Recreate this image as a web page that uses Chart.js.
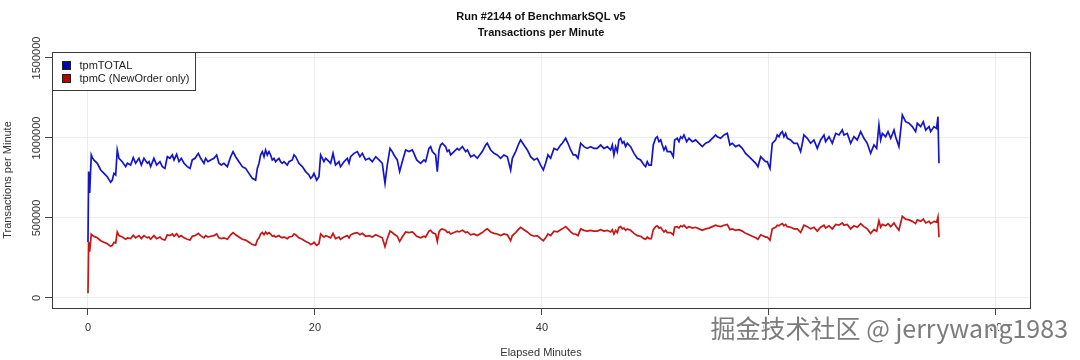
<!DOCTYPE html>
<html>
<head>
<meta charset="utf-8">
<script src="https://cdn.jsdelivr.net/npm/chart.js@4.4.1/dist/chart.umd.min.js"></script>
<style>
  html, body { margin: 0; padding: 0; background: #fff; }
  #wrap { width: 1080px; height: 360px; }
</style>
</head>
<body>
<div id="wrap"><canvas id="tpmChart" width="1080" height="360"></canvas></div>
<script>
// elapsed minutes of each sample
const minutes = [
  0.00, 0.06, 0.15, 0.29, 0.38, 0.53, 0.82, 1.12, 1.41, 1.70, 2.00, 2.14, 2.29, 2.44, 2.58, 2.73,
  3.02, 3.32, 3.47, 3.76, 3.99, 4.20, 4.49, 4.70, 4.93, 5.23, 5.37, 5.52, 5.81, 6.05, 6.34, 6.55,
  6.78, 6.99, 7.22, 7.43, 7.58, 7.81, 8.02, 8.22, 8.46, 8.75, 8.99, 9.19, 9.43, 9.72, 9.93, 10.22,
  10.37, 10.57, 10.81, 11.10, 11.34, 11.54, 11.75, 11.98, 12.28, 12.57, 12.78, 13.01, 13.30, 13.60, 13.89, 14.18,
  14.48, 14.77, 14.92, 15.07, 15.21, 15.36, 15.51, 15.65, 15.80, 15.95, 16.09, 16.24, 16.39, 16.53, 16.68, 16.83,
  16.97, 17.12, 17.27, 17.56, 17.71, 18.00, 18.15, 18.30, 18.59, 18.88, 19.18, 19.47, 19.62, 19.77, 19.91, 20.15,
  20.35, 20.50, 20.65, 20.79, 20.94, 21.09, 21.38, 21.59, 21.81, 22.11, 22.25, 22.56, 22.85, 23.00, 23.14, 23.44,
  23.73, 23.96, 24.17, 24.46, 24.76, 25.05, 25.35, 25.64, 25.93, 26.17, 26.37, 26.61, 26.81, 26.96, 27.25, 27.46,
  27.69, 27.99, 28.28, 28.58, 28.72, 28.96, 29.31, 29.60, 29.75, 29.90, 30.04, 30.19, 30.34, 30.49, 30.63, 30.78,
  30.93, 31.07, 31.22, 31.37, 31.51, 31.66, 31.81, 31.95, 32.25, 32.54, 32.69, 32.99, 33.28, 33.43, 33.72, 34.01,
  34.30, 34.74, 35.04, 35.18, 35.48, 35.77, 36.06, 36.36, 36.65, 36.95, 37.24, 37.39, 37.68, 37.97, 38.12, 38.41,
  38.71, 39.00, 39.30, 39.59, 39.88, 40.12, 40.32, 40.53, 40.76, 41.06, 41.35, 41.64, 41.79, 42.09, 42.29, 42.53,
  42.76, 42.97, 43.17, 43.41, 43.70, 43.99, 44.29, 44.58, 44.87, 45.17, 45.46, 45.76, 46.05, 46.20, 46.34, 46.49,
  46.64, 46.78, 46.93, 47.08, 47.22, 47.37, 47.52, 47.81, 48.11, 48.40, 48.69, 48.99, 49.13, 49.28, 49.43, 49.63,
  49.81, 50.01, 50.16, 50.31, 50.46, 50.60, 50.75, 50.90, 51.04, 51.34, 51.57, 51.69, 51.92, 52.07, 52.22, 52.36,
  52.51, 52.75, 52.95, 53.25, 53.54, 53.84, 54.13, 54.42, 54.71, 55.01, 55.30, 55.45, 55.74, 56.04, 56.33, 56.56,
  56.77, 57.06, 57.36, 57.65, 57.94, 58.24, 58.53, 58.83, 59.03, 59.27, 59.41, 59.71, 59.85, 60.09, 60.29, 60.44,
  60.59, 60.73, 60.88, 61.03, 61.18, 61.32, 61.47, 61.62, 61.91, 62.20, 62.50, 62.79, 62.94, 63.08, 63.38, 63.67,
  63.96, 64.26, 64.55, 64.85, 64.99, 65.29, 65.58, 65.88, 66.17, 66.46, 66.61, 66.90, 67.20, 67.49, 67.78, 68.08,
  68.37, 68.66, 68.96, 69.25, 69.49, 69.69, 69.84, 69.99, 70.28, 70.49, 70.73, 71.02, 71.16, 71.45, 71.75, 72.04,
  72.34, 72.63, 72.92, 73.07, 73.37, 73.60, 73.81, 74.10, 74.25, 74.54, 74.77, 74.89, 74.98
];

const tpmTotal = [
  350000, 790000, 656000, 893000, 877000, 862000, 842000, 800000, 779000, 758000, 723000, 737000, 779000, 769000, 925000, 873000,
  852000, 821000, 842000, 831000, 877000, 842000, 873000, 831000, 873000, 842000, 852000, 821000, 873000, 831000, 852000, 821000,
  810000, 883000, 873000, 894000, 863000, 898000, 852000, 873000, 842000, 821000, 810000, 863000, 873000, 904000, 873000, 842000,
  873000, 852000, 863000, 873000, 894000, 842000, 831000, 842000, 821000, 883000, 915000, 883000, 852000, 821000, 810000, 779000,
  748000, 737000, 810000, 842000, 894000, 915000, 883000, 925000, 894000, 915000, 894000, 863000, 873000, 852000, 863000, 873000,
  852000, 842000, 852000, 831000, 852000, 863000, 894000, 883000, 842000, 821000, 790000, 769000, 748000, 758000, 779000, 737000,
  758000, 894000, 873000, 852000, 873000, 863000, 842000, 904000, 831000, 852000, 821000, 852000, 873000, 842000, 883000, 904000,
  915000, 883000, 904000, 863000, 873000, 852000, 883000, 863000, 842000, 717000, 831000, 935000, 915000, 894000, 863000, 790000,
  852000, 925000, 915000, 925000, 904000, 863000, 842000, 863000, 852000, 894000, 935000, 946000, 915000, 904000, 894000, 790000,
  925000, 956000, 967000, 956000, 946000, 915000, 925000, 894000, 915000, 935000, 925000, 946000, 915000, 925000, 883000, 894000,
  873000, 915000, 956000, 967000, 925000, 904000, 894000, 873000, 894000, 883000, 800000, 873000, 915000, 967000, 988000, 956000,
  925000, 883000, 863000, 873000, 831000, 800000, 842000, 894000, 873000, 935000, 925000, 956000, 967000, 998000, 967000, 925000,
  894000, 894000, 873000, 967000, 946000, 935000, 946000, 935000, 935000, 956000, 935000, 946000, 925000, 956000, 894000, 946000,
  915000, 988000, 998000, 967000, 977000, 946000, 967000, 946000, 904000, 873000, 863000, 831000, 821000, 852000, 831000, 831000,
  956000, 998000, 1008000, 977000, 988000, 956000, 925000, 946000, 915000, 915000, 883000, 988000, 998000, 977000, 1008000, 998000,
  1019000, 977000, 998000, 977000, 988000, 967000, 946000, 967000, 977000, 998000, 1019000, 1008000, 998000, 1019000, 1029000, 956000,
  967000, 946000, 956000, 935000, 904000, 883000, 863000, 842000, 821000, 883000, 873000, 852000, 852000, 810000, 967000, 977000,
  988000, 1019000, 1008000, 1029000, 1040000, 1008000, 1029000, 998000, 988000, 967000, 967000, 915000, 967000, 1019000, 998000, 967000,
  988000, 935000, 988000, 1019000, 977000, 1008000, 967000, 1029000, 1019000, 1050000, 1019000, 1029000, 967000, 1008000, 988000, 1040000,
  998000, 967000, 904000, 956000, 935000, 1081000, 988000, 1029000, 1008000, 1040000, 998000, 1050000, 1008000, 946000, 1144000, 1102000,
  1092000, 1071000, 1040000, 1092000, 1071000, 1102000, 1050000, 1071000, 1040000, 1071000, 1060000, 1133000, 842000
];

const tpmC = [
  30000, 350000, 290000, 399000, 392000, 385000, 376000, 358000, 348000, 339000, 323000, 329000, 348000, 344000, 413000, 390000,
  381000, 367000, 376000, 371000, 392000, 376000, 390000, 371000, 390000, 376000, 381000, 367000, 390000, 371000, 381000, 367000,
  362000, 395000, 390000, 400000, 386000, 401000, 381000, 390000, 376000, 367000, 362000, 386000, 390000, 404000, 390000, 376000,
  390000, 381000, 386000, 390000, 400000, 376000, 371000, 376000, 367000, 395000, 409000, 395000, 381000, 367000, 362000, 348000,
  334000, 329000, 362000, 376000, 400000, 409000, 395000, 413000, 400000, 409000, 400000, 386000, 390000, 381000, 386000, 390000,
  381000, 376000, 381000, 371000, 381000, 386000, 400000, 395000, 376000, 367000, 353000, 344000, 334000, 339000, 348000, 329000,
  339000, 400000, 390000, 381000, 390000, 386000, 376000, 404000, 371000, 381000, 367000, 381000, 390000, 376000, 395000, 404000,
  409000, 395000, 404000, 386000, 390000, 381000, 395000, 386000, 376000, 321000, 371000, 418000, 409000, 400000, 386000, 353000,
  381000, 413000, 409000, 413000, 404000, 386000, 376000, 386000, 381000, 400000, 418000, 423000, 409000, 404000, 400000, 353000,
  413000, 427000, 432000, 427000, 423000, 409000, 413000, 400000, 409000, 418000, 413000, 423000, 409000, 413000, 395000, 400000,
  390000, 409000, 427000, 432000, 413000, 404000, 400000, 390000, 400000, 395000, 358000, 390000, 409000, 432000, 442000, 427000,
  413000, 395000, 386000, 390000, 371000, 358000, 376000, 400000, 390000, 418000, 413000, 427000, 432000, 446000, 432000, 413000,
  400000, 400000, 390000, 432000, 423000, 418000, 423000, 418000, 418000, 427000, 418000, 423000, 413000, 427000, 400000, 423000,
  409000, 442000, 446000, 432000, 437000, 423000, 432000, 423000, 404000, 390000, 386000, 371000, 367000, 381000, 371000, 371000,
  427000, 446000, 451000, 437000, 442000, 427000, 413000, 423000, 409000, 409000, 395000, 442000, 446000, 437000, 451000, 446000,
  455000, 437000, 446000, 437000, 442000, 432000, 423000, 432000, 437000, 446000, 455000, 451000, 446000, 455000, 460000, 427000,
  432000, 423000, 427000, 418000, 404000, 395000, 386000, 376000, 367000, 395000, 390000, 381000, 381000, 362000, 432000, 437000,
  442000, 455000, 451000, 460000, 465000, 451000, 460000, 446000, 442000, 432000, 432000, 409000, 432000, 455000, 446000, 432000,
  442000, 418000, 442000, 455000, 437000, 451000, 432000, 460000, 455000, 469000, 455000, 460000, 432000, 451000, 442000, 465000,
  446000, 432000, 404000, 427000, 418000, 483000, 442000, 460000, 451000, 465000, 446000, 469000, 451000, 423000, 511000, 493000,
  488000, 479000, 465000, 488000, 479000, 493000, 469000, 479000, 465000, 479000, 474000, 506000, 380000
];

const xTicks = [0, 20, 40, 60, 80];
const yTicks = [0, 500000, 1000000, 1500000];
const seriesNames = ['tpmTOTAL', 'tpmC (NewOrder only)'];
const seriesColors = ['#1515c8', '#c81515'];
const legendFill = ['#0000b4', '#b40000'];

const FONT = '"Liberation Sans", Arial, Helvetica, sans-serif';

function toPoints(vals) {
  return minutes.map((m, i) => ({ x: m, y: vals[i] }));
}

// box around the plot, the legend and the watermark
const extrasPlugin = {
  id: 'extras',
  afterDatasetsDraw(chart) {
    const { ctx, chartArea: a } = chart;
    ctx.save();
    ctx.strokeStyle = '#3a3a3a';
    ctx.lineWidth = 1;
    ctx.strokeRect(Math.round(a.left) + 0.5, Math.round(a.top) + 0.5,
      Math.round(a.right - a.left), Math.round(a.bottom - a.top));

    // legend, top left inside the plot
    ctx.font = '11px ' + FONT;
    let maxW = 0;
    seriesNames.forEach(n => { maxW = Math.max(maxW, ctx.measureText(n).width); });
    const lx = Math.round(a.left) + 0.5, ly = Math.round(a.top) + 0.5;
    const lw = 27 + maxW + 6, lh = 38;
    ctx.fillStyle = '#fff';
    ctx.fillRect(lx, ly, lw, lh);
    ctx.strokeRect(lx, ly, lw, lh);
    ctx.textBaseline = 'middle';
    ctx.textAlign = 'left';
    seriesNames.forEach((n, i) => {
      const cy = ly + 13 + i * 13;
      ctx.fillStyle = legendFill[i];
      ctx.fillRect(lx + 10, cy - 4, 8, 8);
      ctx.strokeStyle = '#222';
      ctx.strokeRect(lx + 10, cy - 4, 8, 8);
      ctx.fillStyle = '#222';
      ctx.fillText(n, lx + 27, cy);
    });
    ctx.restore();
  },
  afterDraw(chart) {
    const { ctx } = chart;
    ctx.save();
    ctx.font = '25px "Noto Sans CJK SC", "Noto Sans", sans-serif';
    ctx.textAlign = 'right';
    ctx.textBaseline = 'middle';
    ctx.lineWidth = 3;
    ctx.strokeStyle = 'rgba(255,255,255,0.9)';
    ctx.strokeText('掘金技术社区 @ jerrywang1983', 1068, 328);
    ctx.fillStyle = '#7c7c7c';
    ctx.fillText('掘金技术社区 @ jerrywang1983', 1068, 328);
    ctx.restore();
  }
};

new Chart(document.getElementById('tpmChart'), {
  type: 'line',
  data: {
    datasets: [{
      label: seriesNames[0],
      data: toPoints(tpmTotal),
      borderColor: seriesColors[0],
      borderWidth: 1.7,
      pointRadius: 0,
      tension: 0,
      fill: false
    }, {
      label: seriesNames[1],
      data: toPoints(tpmC),
      borderColor: seriesColors[1],
      borderWidth: 1.7,
      pointRadius: 0,
      tension: 0,
      fill: false
    }]
  },
  options: {
    responsive: false,
    animation: false,
    layout: { padding: { left: 0, right: 50, top: 0, bottom: 0 } },
    plugins: {
      legend: { display: false },
      tooltip: { enabled: false },
      title: {
        display: true,
        fullSize: false,
        text: ['Run #2144 of BenchmarkSQL v5', 'Transactions per Minute'],
        color: '#111',
        font: { family: FONT, size: 11, weight: 'bold', lineHeight: 1.4545 },
        padding: { top: 9, bottom: 11 }
      }
    },
    scales: {
      x: {
        type: 'linear',
        min: -3.17,
        max: 83.0,
        afterBuildTicks: s => { s.ticks = xTicks.map(v => ({ value: v })); },
        afterFit: s => { s.height = 52; },
        ticks: {
          autoSkip: false,
          maxRotation: 0,
          padding: 6,
          color: '#333',
          font: { family: FONT, size: 11 },
          callback: v => String(v)
        },
        grid: { color: '#ececec', tickColor: '#444', tickLength: 7, lineWidth: 1 },
        border: { display: false },
        title: {
          display: true,
          text: 'Elapsed Minutes',
          color: '#333',
          font: { family: FONT, size: 11 },
          padding: { top: 0, bottom: 0 }
        }
      },
      y: {
        min: -62500,
        max: 1537500,
        afterBuildTicks: s => { s.ticks = yTicks.map(v => ({ value: v })); },
        afterFit: s => { s.width = 52; },
        ticks: {
          autoSkip: false,
          minRotation: 90,
          maxRotation: 90,
          crossAlign: 'center',
          padding: -13,
          color: '#333',
          font: { family: FONT, size: 11 },
          callback: v => String(v)
        },
        grid: { color: '#ececec', tickColor: '#444', tickLength: 7, lineWidth: 1 },
        border: { display: false },
        title: {
          display: true,
          text: 'Transactions per Minute',
          color: '#333',
          font: { family: FONT, size: 11 },
          padding: { top: 1, bottom: 0 }
        }
      }
    }
  },
  plugins: [extrasPlugin]
});
</script>
</body>
</html>
